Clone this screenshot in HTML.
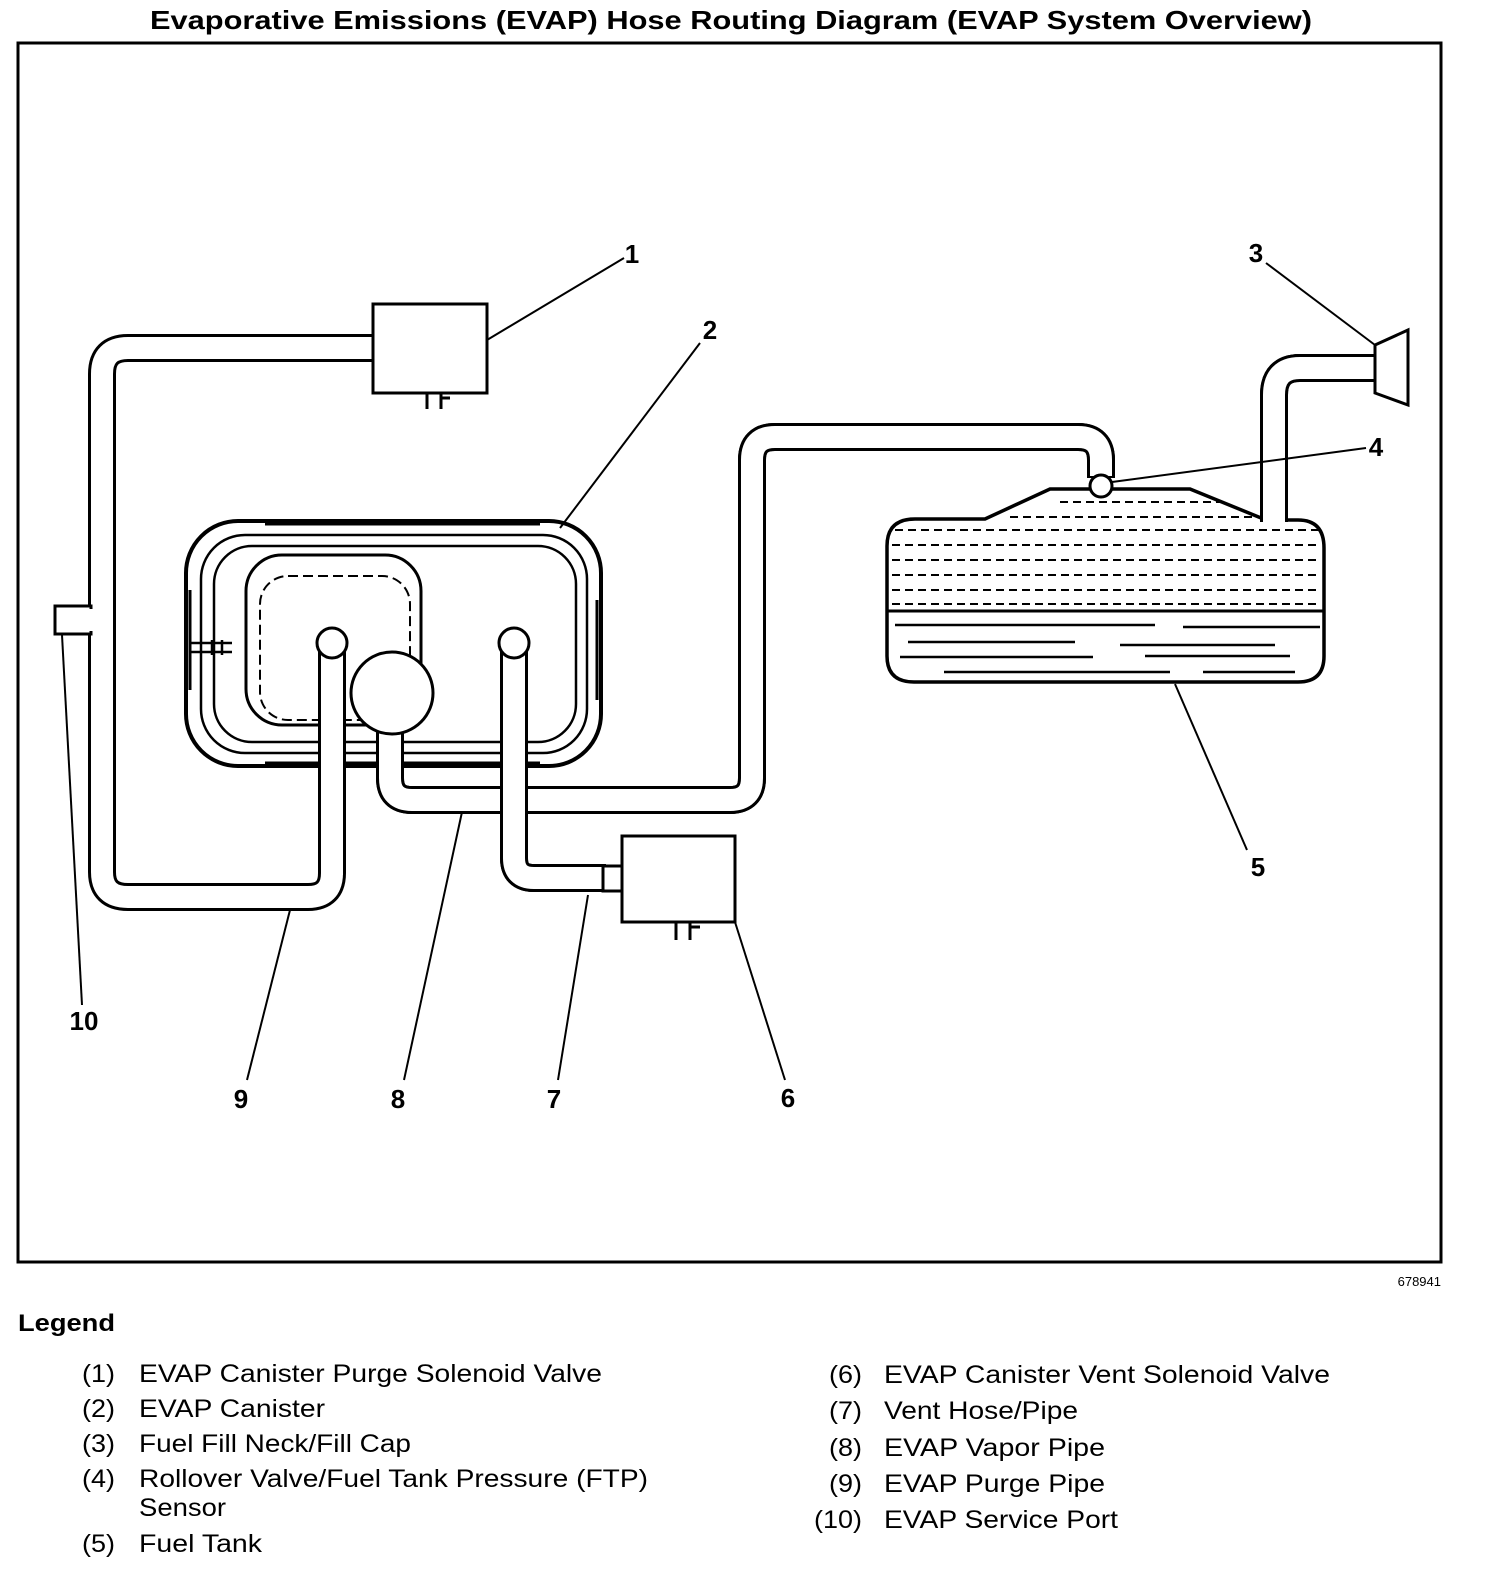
<!DOCTYPE html>
<html><head><meta charset="utf-8"><style>
html,body{margin:0;padding:0;background:#fff;}
svg{display:block;}
text{font-family:"Liberation Sans",Arial,sans-serif;fill:#000;}
</style></head><body>
<svg width="1504" height="1582" viewBox="0 0 1504 1582" xmlns="http://www.w3.org/2000/svg">
<text x="150" y="29" font-size="26" font-weight="bold" textLength="1162" lengthAdjust="spacingAndGlyphs">Evaporative Emissions (EVAP) Hose Routing Diagram (EVAP System Overview)</text>
<rect x="18" y="43" width="1423" height="1219" fill="none" stroke="#000" stroke-width="3"/>

<g fill="none" stroke-linecap="butt" stroke-linejoin="round">
<path d="M375,348 H128 Q102,348 102,374 V872 Q102,897 128,897 H308 Q332,897 332,873 V650" stroke="#000" stroke-width="28"/>
<path d="M376,348 H128 Q102,348 102,374 V872 Q102,897 128,897 H308 Q332,897 332,873 V648" stroke="#fff" stroke-width="22"/>
<path d="M390,725 V778 Q390,800 412,800 H730 Q752,800 752,778 V460 Q752,437 775,437 H1078 Q1101,437 1101,460 V478" stroke="#000" stroke-width="28"/>
<path d="M1274,522 V395 Q1274,368 1300,368 H1376" stroke="#000" stroke-width="28"/>
<path d="M514,650 V858 Q514,878 534,878 H606" stroke="#000" stroke-width="28"/>
</g>

<rect x="186" y="521" width="415" height="245" rx="52" fill="#fff" stroke="#000" stroke-width="4"/>
<rect x="201" y="535" width="386" height="218" rx="44" fill="none" stroke="#000" stroke-width="2.5"/>
<rect x="214" y="546" width="362" height="196" rx="38" fill="none" stroke="#000" stroke-width="2.5"/>
<path d="M265,524 H540 M190,590 V690 M597,600 V700 M265,763 H540" stroke="#000" stroke-width="3"/>
<rect x="246" y="555" width="175" height="170" rx="36" fill="none" stroke="#000" stroke-width="3"/>
<rect x="260" y="576" width="150" height="144" rx="28" fill="none" stroke="#000" stroke-width="2" stroke-dasharray="10,5"/>
<path d="M190,643 H232 M190,652 H232 M212,640 V655 M222,640 V655" stroke="#000" stroke-width="2.5" fill="none"/>

<g fill="none" stroke-linejoin="round">
<path d="M332,873 V650" stroke="#000" stroke-width="28"/>
<path d="M332,875 V648" stroke="#fff" stroke-width="22"/>
<path d="M390,725 V778 Q390,800 412,800 H730 Q752,800 752,778 V460 Q752,437 775,437 H1078 Q1101,437 1101,460 V476" stroke="#000" stroke-width="28"/>
<path d="M390,720 V778 Q390,800 412,800 H730 Q752,800 752,778 V460 Q752,437 775,437 H1078 Q1101,437 1101,460 V476" stroke="#fff" stroke-width="22"/>
<path d="M514,650 V858 Q514,878 534,878 H606" stroke="#000" stroke-width="28"/>
<path d="M514,648 V858 Q514,878 534,878 H608" stroke="#fff" stroke-width="22"/>
</g>
<circle cx="332" cy="643" r="15" fill="#fff" stroke="#000" stroke-width="3"/>
<circle cx="514" cy="643" r="15" fill="#fff" stroke="#000" stroke-width="3"/>
<circle cx="392" cy="693" r="41" fill="#fff" stroke="#000" stroke-width="3"/>

<rect x="55" y="606" width="36" height="28" fill="#fff" stroke="#000" stroke-width="3"/>
<rect x="88" y="609" width="8" height="22" fill="#fff"/>

<rect x="373" y="304" width="114" height="89" fill="#fff" stroke="#000" stroke-width="3"/>
<path d="M427,393 V409 M441,393 V409 M441,398 H450" stroke="#000" stroke-width="3" fill="none"/>

<rect x="603" y="866" width="22" height="25" fill="#fff" stroke="#000" stroke-width="3"/>
<rect x="622" y="836" width="113" height="86" fill="#fff" stroke="#000" stroke-width="3"/>
<path d="M676,922 V940 M690,922 V940 M690,927 H700" stroke="#000" stroke-width="3" fill="none"/>

<path d="M915,519 H985 L1050,489 H1190 L1266,520 H1298 Q1324,520 1324,548 V656 Q1324,682 1298,682 H914 Q887,682 887,656 V546 Q887,519 915,519 Z" fill="#fff" stroke="#000" stroke-width="3.5"/>
<g stroke="#000" stroke-width="2" stroke-dasharray="8,5">
<path d="M1060,502 H1220 M1010,517 H1255 M895,530 H1320 M892,545 H1320 M892,560 H1320 M892,575 H1320 M892,590 H1320 M892,604 H1320"/>
</g>
<path d="M888,611 H1323" stroke="#000" stroke-width="3"/>
<g stroke="#000" stroke-width="2.5">
<path d="M895,625 H1155 M1183,627 H1320 M908,642 H1075 M1120,645 H1275 M900,657 H1093 M1145,656 H1290 M944,672 H1170 M1203,672 H1295"/>
</g>
<path d="M1274,522 V395 Q1274,368 1300,368 H1376" stroke="#000" stroke-width="28" fill="none"/>
<path d="M1274,524 V395 Q1274,368 1300,368 H1377" stroke="#fff" stroke-width="22" fill="none"/>
<circle cx="1101" cy="486" r="11" fill="#fff" stroke="#000" stroke-width="3"/>
<path d="M1375,345 L1408,330 V405 L1375,393 Z" fill="#fff" stroke="#000" stroke-width="3"/>

<g stroke="#000" stroke-width="2" fill="none">
<path d="M487,340 L624,258"/>
<path d="M560,528 L700,343"/>
<path d="M1375,345 L1266,263"/>
<path d="M1112,482 L1366,448"/>
<path d="M1175,684 L1247,850"/>
<path d="M735,922 L785,1080"/>
<path d="M588,895 L558,1080"/>
<path d="M462,812 L404,1080"/>
<path d="M290,910 L247,1080"/>
<path d="M62,635 L82,1005"/>
</g>
<g font-size="26" font-weight="bold">
<text x="632" y="263" text-anchor="middle">1</text>
<text x="710" y="339" text-anchor="middle">2</text>
<text x="1256" y="262" text-anchor="middle">3</text>
<text x="1376" y="456" text-anchor="middle">4</text>
<text x="1258" y="876" text-anchor="middle">5</text>
<text x="788" y="1107" text-anchor="middle">6</text>
<text x="554" y="1108" text-anchor="middle">7</text>
<text x="398" y="1108" text-anchor="middle">8</text>
<text x="241" y="1108" text-anchor="middle">9</text>
<text x="84" y="1030" text-anchor="middle">10</text>
</g>
<text x="1441" y="1286" font-size="13" text-anchor="end">678941</text>

<text x="18" y="1331" font-size="24" font-weight="bold" textLength="97" lengthAdjust="spacingAndGlyphs">Legend</text>
<g font-size="25">
<text x="82" y="1382" textLength="33" lengthAdjust="spacingAndGlyphs">(1)</text><text x="139" y="1382" textLength="463" lengthAdjust="spacingAndGlyphs">EVAP Canister Purge Solenoid Valve</text>
<text x="82" y="1417" textLength="33" lengthAdjust="spacingAndGlyphs">(2)</text><text x="139" y="1417" textLength="186" lengthAdjust="spacingAndGlyphs">EVAP Canister</text>
<text x="82" y="1452" textLength="33" lengthAdjust="spacingAndGlyphs">(3)</text><text x="139" y="1452" textLength="272" lengthAdjust="spacingAndGlyphs">Fuel Fill Neck/Fill Cap</text>
<text x="82" y="1487" textLength="33" lengthAdjust="spacingAndGlyphs">(4)</text><text x="139" y="1487" textLength="509" lengthAdjust="spacingAndGlyphs">Rollover Valve/Fuel Tank Pressure (FTP)</text>
<text x="139" y="1516" textLength="87" lengthAdjust="spacingAndGlyphs">Sensor</text>
<text x="82" y="1552" textLength="33" lengthAdjust="spacingAndGlyphs">(5)</text><text x="139" y="1552" textLength="123" lengthAdjust="spacingAndGlyphs">Fuel Tank</text>
<text x="829" y="1383" textLength="33" lengthAdjust="spacingAndGlyphs">(6)</text><text x="884" y="1383" textLength="446" lengthAdjust="spacingAndGlyphs">EVAP Canister Vent Solenoid Valve</text>
<text x="829" y="1419" textLength="33" lengthAdjust="spacingAndGlyphs">(7)</text><text x="884" y="1419" textLength="194" lengthAdjust="spacingAndGlyphs">Vent Hose/Pipe</text>
<text x="829" y="1456" textLength="33" lengthAdjust="spacingAndGlyphs">(8)</text><text x="884" y="1456" textLength="221" lengthAdjust="spacingAndGlyphs">EVAP Vapor Pipe</text>
<text x="829" y="1492" textLength="33" lengthAdjust="spacingAndGlyphs">(9)</text><text x="884" y="1492" textLength="221" lengthAdjust="spacingAndGlyphs">EVAP Purge Pipe</text>
<text x="814" y="1528" textLength="48" lengthAdjust="spacingAndGlyphs">(10)</text><text x="884" y="1528" textLength="234" lengthAdjust="spacingAndGlyphs">EVAP Service Port</text>
</g>
</svg>
</body></html>
